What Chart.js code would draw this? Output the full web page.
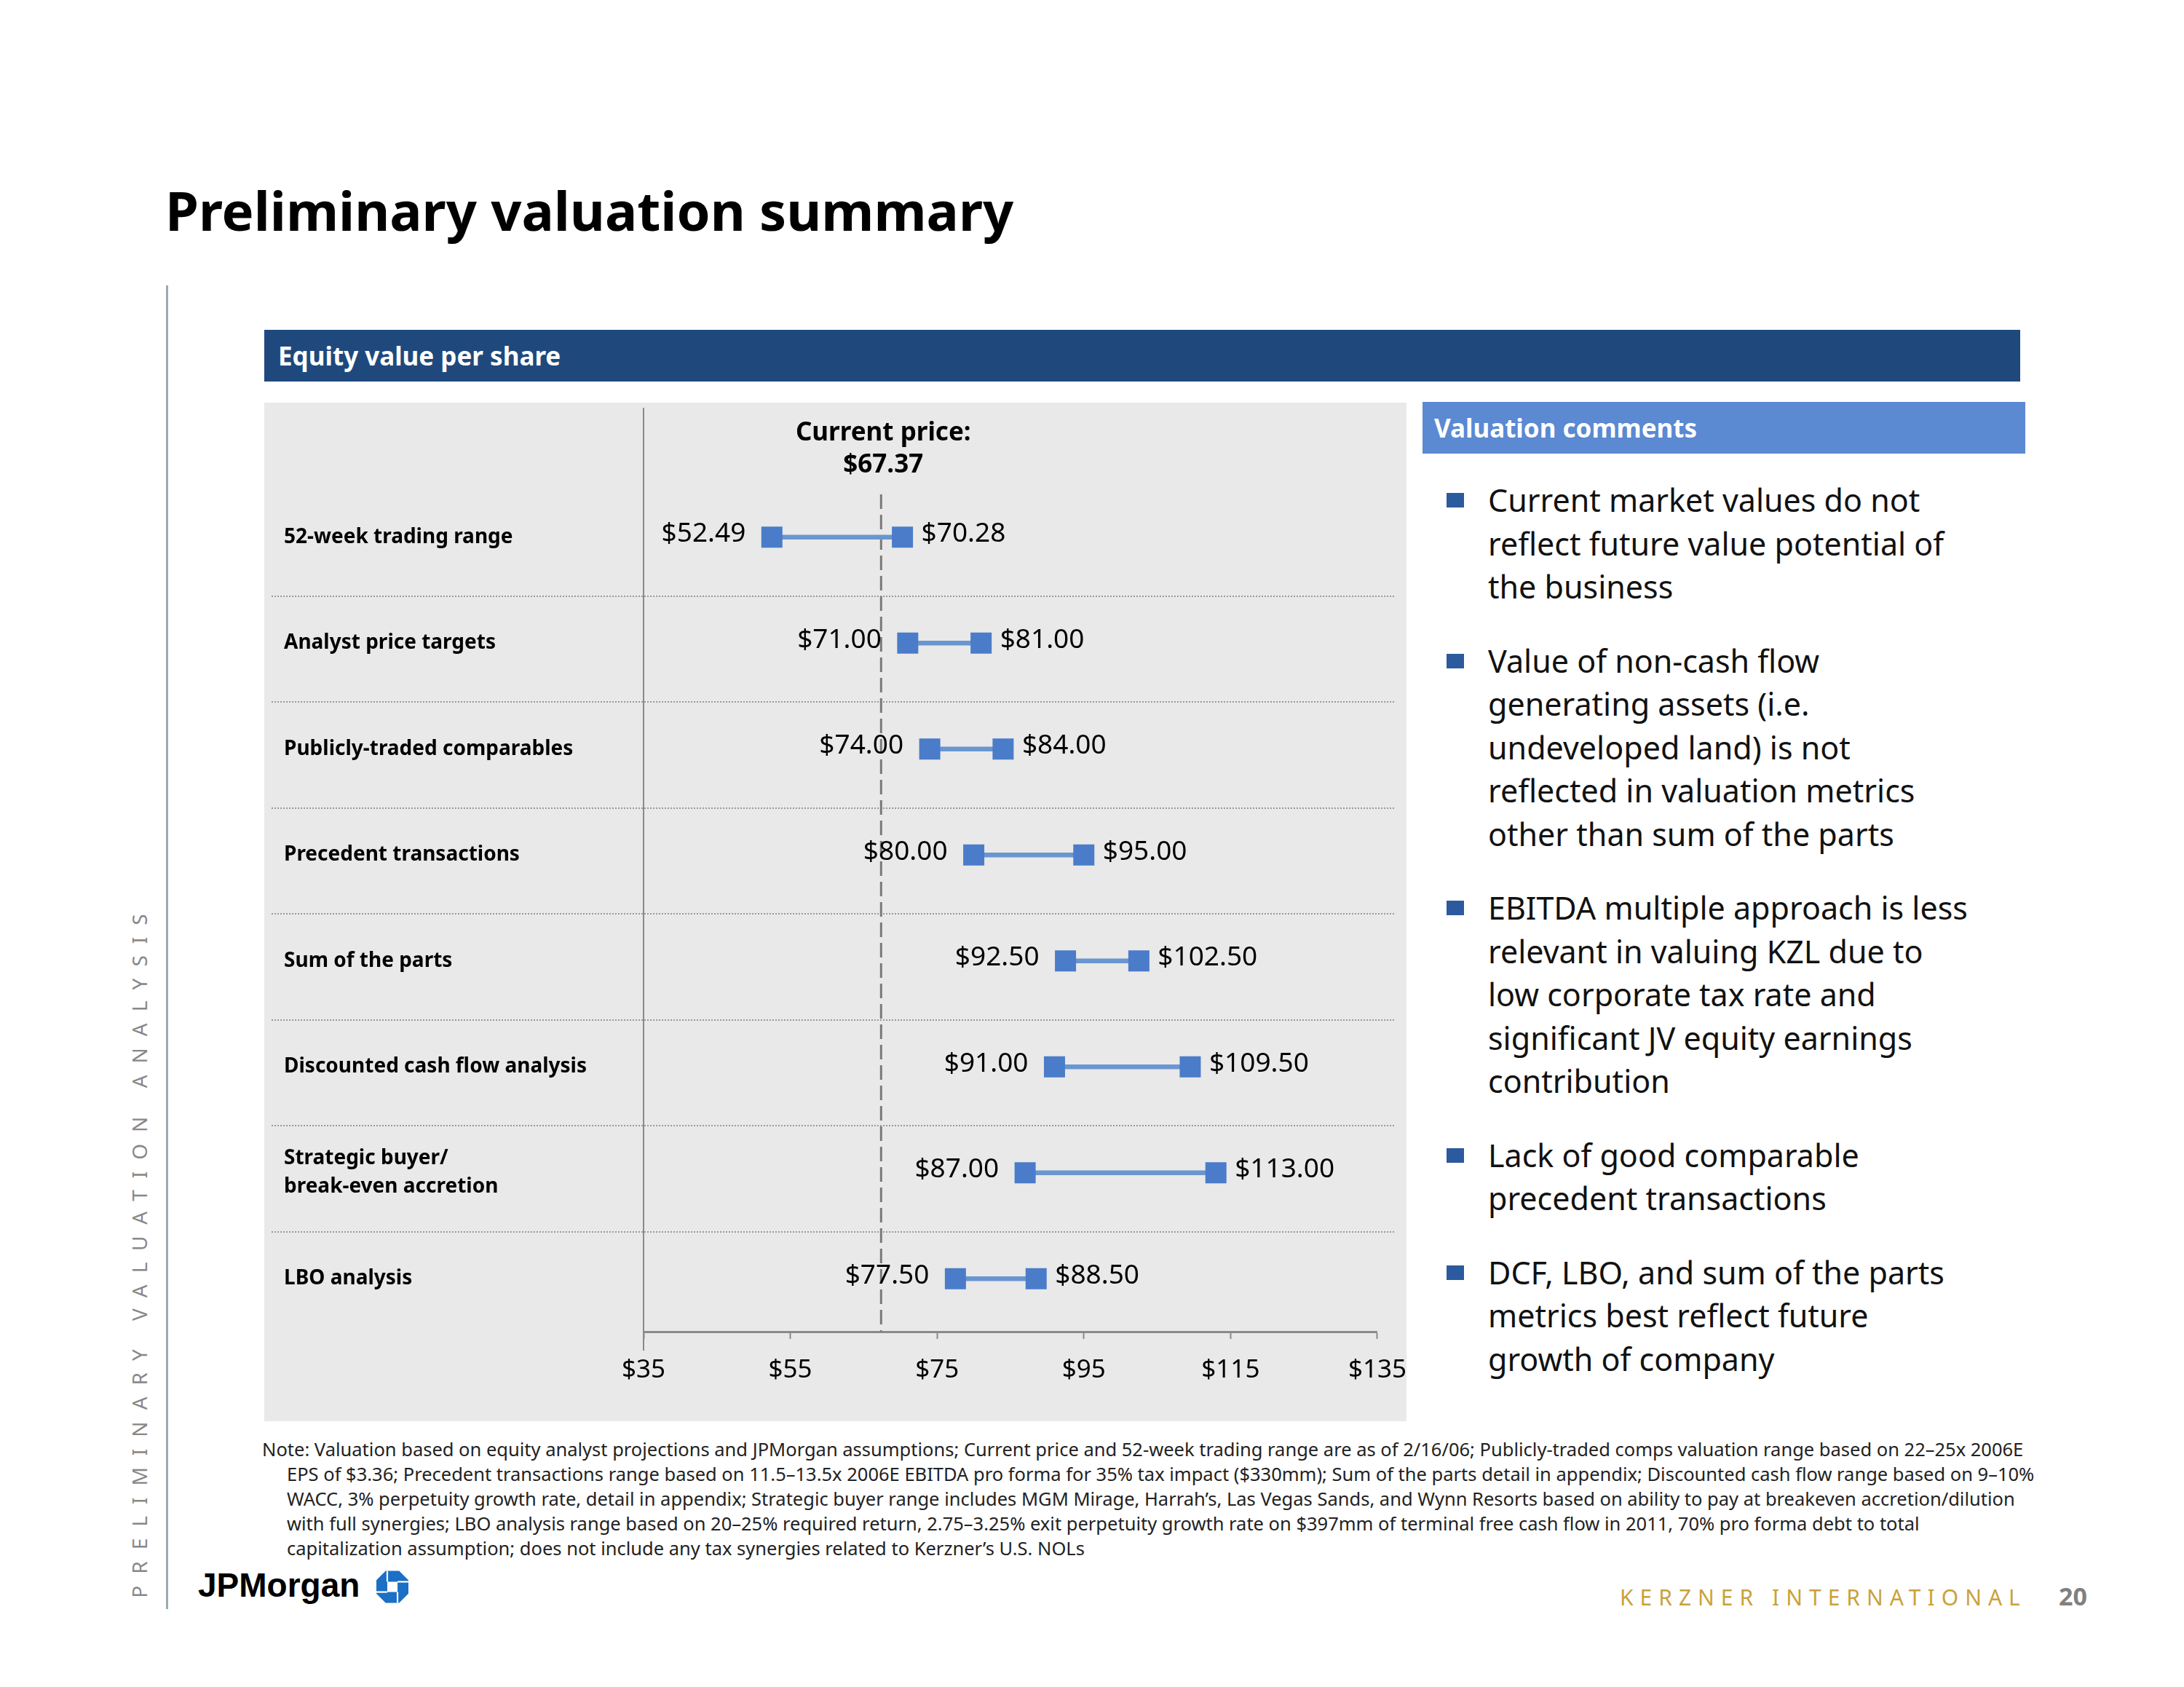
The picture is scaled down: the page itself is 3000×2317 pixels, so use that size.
<!DOCTYPE html>
<html>
<head>
<meta charset="utf-8">
<title>Preliminary valuation summary</title>
<script src="https://cdn.jsdelivr.net/npm/chart.js@4.4.1/dist/chart.umd.min.js"></script>
<style>
  html, body { margin: 0; padding: 0; background: #fff; }
  body { width: 3000px; height: 2317px; position: relative; overflow: hidden; font-family: "Noto Sans", sans-serif; color: #000; }
  .abs { position: absolute; }
  #title { left: 227px; top: 252px; font-size: 74px; font-weight: bold; line-height: 1; white-space: nowrap; }
  #leftRule { left: 228px; top: 392px; width: 3px; height: 1818px; background: #9ea8b0; }
  #sideText { left: -359px; top: 1697px; width: 1100px; height: 40px; line-height: 40px; text-align: center;
              transform: rotate(-90deg); font-size: 28px; letter-spacing: 16px; color: #888; white-space: nowrap; }
  #equityBar { left: 363px; top: 453px; width: 2412px; height: 71px; background: #1f497d; color: #fff;
               font-weight: bold; font-size: 35px; line-height: 71px; padding-left: 19px; box-sizing: border-box; }
  #chartBox { left: 363px; top: 553px; width: 1569px; height: 1399px; background: #e9e9e9; }
  #valChart { left: 363px; top: 553px; }
  #commentsHead { left: 1954px; top: 552px; width: 828px; height: 71px; background: #5b89d2; color: #fff;
                  font-weight: bold; font-size: 35px; line-height: 71px; padding-left: 16px; box-sizing: border-box; }
  #comments { left: 1987px; top: 657px; width: 800px; }
  .cm { position: relative; padding-left: 57px; font-size: 43px; line-height: 59.5px; margin-bottom: 42px; white-space: nowrap; color: #111; }
  .sq { position: absolute; left: 0; top: 20px; width: 24px; height: 20px; background: #2b5a9e; }
  #note { left: 360px; top: 1973px; font-size: 25.5px; line-height: 34px; color: #222; white-space: nowrap; }
  #note div + div { padding-left: 34px; }
  #jpm { left: 272px; top: 2150px; font-family: "Liberation Sans", sans-serif; font-weight: bold; font-size: 46px; line-height: 54px; }
  #chase { left: 517px; top: 2157px; }
  #kzl { left: 2225px; top: 2175px; font-size: 30px; letter-spacing: 9px; color: #c9a23a; line-height: 38px; white-space: nowrap; }
  #pageNo { left: 2828px; top: 2172px; font-size: 34px; font-weight: bold; color: #808080; line-height: 40px; }
</style>
</head>
<body>
<div id="title" class="abs">Preliminary valuation summary</div>
<div id="leftRule" class="abs"></div>
<div id="sideText" class="abs">PRELIMINARY VALUATION ANALYSIS</div>

<div id="equityBar" class="abs">Equity value per share</div>
<div id="chartBox" class="abs"></div>
<canvas id="valChart" class="abs" width="1591" height="1399"></canvas>

<div id="commentsHead" class="abs">Valuation comments</div>
<div id="comments" class="abs">
  <div class="cm"><span class="sq"></span>Current market values do not<br>reflect future value potential of<br>the business</div>
  <div class="cm"><span class="sq"></span>Value of non-cash flow<br>generating assets (i.e.<br>undeveloped land) is not<br>reflected in valuation metrics<br>other than sum of the parts</div>
  <div class="cm"><span class="sq"></span>EBITDA multiple approach is less<br>relevant in valuing KZL due to<br>low corporate tax rate and<br>significant JV equity earnings<br>contribution</div>
  <div class="cm"><span class="sq"></span>Lack of good comparable<br>precedent transactions</div>
  <div class="cm"><span class="sq"></span>DCF, LBO, and sum of the parts<br>metrics best reflect future<br>growth of company</div>
</div>

<div id="note" class="abs">
  <div>Note: Valuation based on equity analyst projections and JPMorgan assumptions; Current price and 52-week trading range are as of 2/16/06; Publicly-traded comps valuation range based on 22–25x 2006E</div>
  <div>EPS of $3.36; Precedent transactions range based on 11.5–13.5x 2006E EBITDA pro forma for 35% tax impact ($330mm); Sum of the parts detail in appendix; Discounted cash flow range based on 9–10%</div>
  <div>WACC, 3% perpetuity growth rate, detail in appendix; Strategic buyer range includes MGM Mirage, Harrah’s, Las Vegas Sands, and Wynn Resorts based on ability to pay at breakeven accretion/dilution</div>
  <div>with full synergies; LBO analysis range based on 20–25% required return, 2.75–3.25% exit perpetuity growth rate on $397mm of terminal free cash flow in 2011, 70% pro forma debt to total</div>
  <div>capitalization assumption; does not include any tax synergies related to Kerzner’s U.S. NOLs</div>
</div>

<div id="jpm" class="abs">JPMorgan</div>
<svg id="chase" class="abs" width="44" height="45" viewBox="0 0 100 100">
  <polygon points="29,0 71,0 100,29 100,71 71,100 29,100 0,71 0,29" fill="#1b6fc4"/>
  <rect x="34" y="34" width="32" height="32" fill="#fff"/>
  <g stroke="#fff" stroke-width="5">
    <line x1="34" y1="34" x2="34" y2="0"/>
    <line x1="66" y1="34" x2="100" y2="34"/>
    <line x1="66" y1="66" x2="66" y2="100"/>
    <line x1="34" y1="66" x2="0" y2="66"/>
  </g>
</svg>
<div id="kzl" class="abs">KERZNER INTERNATIONAL</div>
<div id="pageNo" class="abs">20</div>

<script>
// data
const categories = [
    '52-week trading range',
    'Analyst price targets',
    'Publicly-traded comparables',
    'Precedent transactions',
    'Sum of the parts',
    'Discounted cash flow analysis',
    'Strategic buyer/\nbreak-even accretion',
    'LBO analysis'
];
const lowValues  = [52.49, 71.00, 74.00, 80.00, 92.50, 91.00, 87.00, 77.50];
const highValues = [70.28, 81.00, 84.00, 95.00, 102.50, 109.50, 113.00, 88.50];
const currentPrice = 67.37;
const axisMin = 35;
const axisMax = 135;
const axisStep = 20;

Chart.defaults.font.family = '"Noto Sans", sans-serif';
Chart.defaults.color = '#000';

// separators, y axis line, current price marker and value labels
const rangeDecor = {
    id: 'rangeDecor',
    beforeDatasetsDraw(chart) {
        const { ctx, chartArea, scales: { x, y } } = chart;
        ctx.save();

        // dotted row separators
        ctx.strokeStyle = '#9a9a9a';
        ctx.lineWidth = 2;
        ctx.setLineDash([2, 2]);
        for (let i = 0; i < categories.length - 1; i++) {
            const yy = Math.round((y.getPixelForValue(i) + y.getPixelForValue(i + 1)) / 2) + 8;
            ctx.beginPath();
            ctx.moveTo(10, yy);
            ctx.lineTo(chartArea.right + 25, yy);
            ctx.stroke();
        }

        // vertical axis line
        ctx.setLineDash([]);
        ctx.strokeStyle = '#8a8a8a';
        ctx.lineWidth = 2;
        ctx.beginPath();
        ctx.moveTo(chartArea.left, 7);
        ctx.lineTo(chartArea.left, chartArea.bottom + 26);
        ctx.stroke();

        // current price
        const px = x.getPixelForValue(currentPrice);
        ctx.setLineDash([20, 8]);
        ctx.strokeStyle = '#7a7a7a';
        ctx.lineWidth = 3;
        ctx.beginPath();
        ctx.moveTo(px, chartArea.top + 14);
        ctx.lineTo(px, chartArea.bottom);
        ctx.stroke();

        ctx.fillStyle = '#000';
        ctx.font = 'bold 35px "Noto Sans"';
        ctx.textAlign = 'center';
        ctx.textBaseline = 'middle';
        ctx.fillText('Current price:', px + 3, chartArea.top - 70);
        ctx.fillText('$' + currentPrice.toFixed(2), px + 3, chartArea.top - 26);
        ctx.restore();
    },
    afterDatasetsDraw(chart) {
        const { ctx, scales: { x, y } } = chart;
        ctx.save();
        ctx.font = '37px "Noto Sans"';
        ctx.fillStyle = '#000';
        ctx.textBaseline = 'middle';
        categories.forEach((c, i) => {
            const yy = y.getPixelForValue(i) - 4;
            ctx.textAlign = 'right';
            ctx.fillText('$' + lowValues[i].toFixed(2), x.getPixelForValue(lowValues[i]) - 36, yy);
            ctx.textAlign = 'left';
            ctx.fillText('$' + highValues[i].toFixed(2), x.getPixelForValue(highValues[i]) + 26, yy);
        });
        ctx.restore();
    }
};

const endPoint = (values) => values.map((v, i) => ({ x: v, y: categories[i] }));

const valCtx = document.getElementById('valChart').getContext('2d');
const valChart = new Chart(valCtx, {
    type: 'bar',
    data: {
        labels: categories,
        datasets: [
            {
                type: 'bar',
                indexAxis: 'y',
                order: 1,
                data: lowValues.map((v, i) => [v, highValues[i]]),
                backgroundColor: '#6a96d0',
                barThickness: 6,
                borderSkipped: false
            },
            {
                type: 'scatter',
                indexAxis: 'x',
                order: 0,
                data: endPoint(lowValues),
                pointStyle: 'rect',
                pointRadius: 20.5,
                pointHoverRadius: 20.5,
                backgroundColor: '#4a7cc9',
                borderWidth: 0
            },
            {
                type: 'scatter',
                indexAxis: 'x',
                order: 0,
                data: endPoint(highValues),
                pointStyle: 'rect',
                pointRadius: 20.5,
                pointHoverRadius: 20.5,
                backgroundColor: '#4a7cc9',
                borderWidth: 0
            }
        ]
    },
    options: {
        responsive: false,
        animation: false,
        events: [],
        layout: { autoPadding: false, padding: { left: 27, top: 112, right: 0, bottom: 0 } },
        plugins: {
            legend: { display: false },
            tooltip: { enabled: false }
        },
        scales: {
            x: {
                type: 'linear',
                position: 'bottom',
                min: axisMin,
                max: axisMax,
                offset: false,
                beginAtZero: false,
                afterFit(scale) { scale.height = 123; },
                ticks: {
                    stepSize: axisStep,
                    padding: 22,
                    font: { size: 35 },
                    callback: (v) => '$' + v
                },
                grid: {
                    drawOnChartArea: false,
                    drawTicks: true,
                    tickLength: 10,
                    tickColor: '#8a8a8a',
                    tickWidth: 2,
                    offset: false
                },
                border: { display: true, color: '#8a8a8a', width: 3 }
            },
            y: {
                type: 'category',
                position: 'left',
                offset: true,
                afterFit(scale) { scale.width = 494; },
                ticks: {
                    crossAlign: 'far',
                    padding: 0,
                    font: { size: 28, weight: 'bold', lineHeight: 1.4 },
                    callback: function (value) { return this.getLabelForValue(value).split('\n'); }
                },
                grid: { display: false, offset: true },
                border: { display: false }
            }
        }
    },
    plugins: [rangeDecor]
});
</script>
</body>
</html>
